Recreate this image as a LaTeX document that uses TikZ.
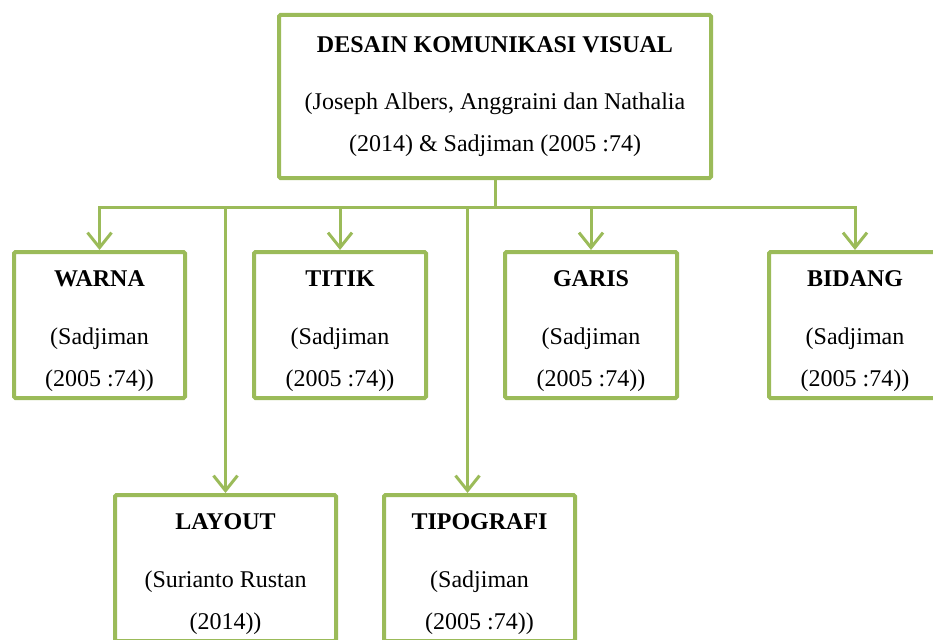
\documentclass[tikz,border=0pt]{standalone}
\usepackage{fontspec}
\setmainfont{Liberation Serif}
\usetikzlibrary{arrows.meta}
\definecolor{dkvgreen}{HTML}{9BBB59}
\newcommand{\boxtitle}[1]{\textbf{#1}\rule{0pt}{28pt}}

\begin{document}
\begin{tikzpicture}[x=1pt, y=-1pt,
	box/.style={draw=dkvgreen, line width=4pt, rounded corners=1.5pt, align=center, inner sep=0pt, font=\fontsize{24}{42}\selectfont},
	link/.style={draw=dkvgreen, line width=3pt, line cap=rect},
	arr/.style={link, -{Straight Barb[length=15pt,width=24pt]}}]
	\useasboundingbox (0,0) rectangle (933,639);
	\clip (0,0) rectangle (933,639);

	% Main box
	\node[box, minimum width=432pt, minimum height=163pt] (dkv) at (495,96.5) {\textbf{DESAIN KOMUNIKASI VISUAL}\\[15pt](Joseph Albers, Anggraini dan Nathalia\\(2014) \& Sadjiman (2005 :74)};

	% First row
	\node[box, minimum width=171pt, minimum height=146pt] (warna) at (99.5,325) {\boxtitle{WARNA}\\[16pt](Sadjiman\\(2005 :74))};
	\node[box, minimum width=172pt, minimum height=146pt] (titik) at (340,325) {\boxtitle{TITIK}\\[16pt](Sadjiman\\(2005 :74))};
	\node[box, minimum width=172pt, minimum height=146pt] (garis) at (591,325) {\boxtitle{GARIS}\\[16pt](Sadjiman\\(2005 :74))};
	\node[box, minimum width=172pt, minimum height=146pt] (bidang) at (855,325) {\boxtitle{BIDANG}\\[16pt](Sadjiman\\(2005 :74))};

	% Second row
	\node[box, minimum width=221pt, minimum height=146pt] (layout) at (225.5,568) {\boxtitle{LAYOUT}\\[16pt](Surianto Rustan\\(2014))};
	\node[box, minimum width=191pt, minimum height=146pt] (tipografi) at (479.5,568) {\boxtitle{TIPOGRAFI}\\[16pt](Sadjiman\\(2005 :74))};

	% Connectors
	\coordinate (bus) at (0,207);
	\draw[link] (dkv.south) -- (dkv.south |- bus);
	\draw[link] (warna.north |- bus) -- (bidang.north |- bus);
	\draw[arr] (warna.north |- bus) -- (warna.north);
	\draw[arr] (titik.north |- bus) -- (titik.north);
	\draw[arr] (garis.north |- bus) -- (garis.north);
	\draw[arr] (bidang.north |- bus) -- (bidang.north);
	\draw[arr] (layout.north |- bus) -- (layout.north);
	\draw[arr] ([xshift=-12pt]tipografi.north |- bus) -- ([xshift=-12pt]tipografi.north);
\end{tikzpicture}
\end{document}
